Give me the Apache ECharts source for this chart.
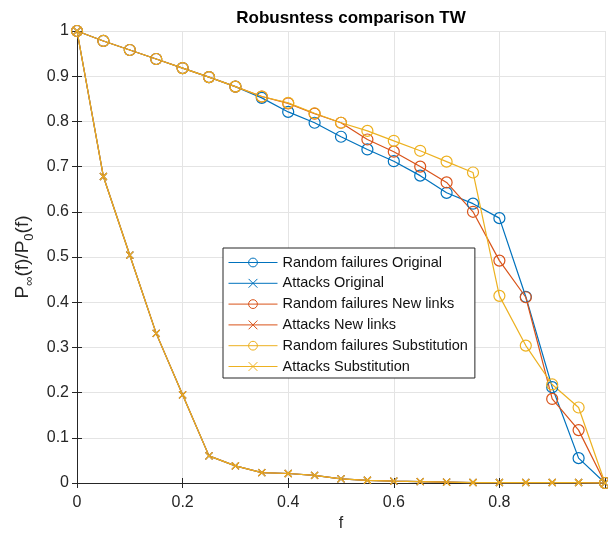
<!DOCTYPE html>
<html>
<head>
<meta charset="utf-8">
<script src="https://cdn.jsdelivr.net/npm/echarts@6/dist/echarts.min.js"></script>
<style>
  html, body { margin: 0; padding: 0; background: #fff; }
  #chart { width: 608px; height: 537px; }
</style>
</head>
<body>
<div id="chart"></div>
<script>
// Fraction of removed nodes
const fractions = [0, 0.05, 0.1, 0.15, 0.2, 0.25, 0.3, 0.35, 0.4, 0.45, 0.5,
                   0.55, 0.6, 0.65, 0.7, 0.75, 0.8, 0.85, 0.9, 0.95, 1];

// Relative size of the giant component, P_inf(f)/P_0(f)
const randomOriginal     = [1.000, 0.978, 0.958, 0.938, 0.918, 0.898, 0.877, 0.852, 0.821, 0.797, 0.766,
                            0.738, 0.712, 0.680, 0.642, 0.618, 0.586, 0.412, 0.212, 0.055, 0.000];
const attacksOriginal    = [1.000, 0.678, 0.504, 0.331, 0.195, 0.060, 0.038, 0.023, 0.021, 0.017, 0.009,
                            0.006, 0.004, 0.003, 0.002, 0.001, 0.001, 0.001, 0.001, 0.001, 0.000];
const randomNewLinks     = [1.000, 0.978, 0.958, 0.938, 0.918, 0.898, 0.877, 0.855, 0.840, 0.817, 0.797,
                            0.760, 0.733, 0.700, 0.665, 0.600, 0.492, 0.411, 0.186, 0.117, 0.000];
const attacksNewLinks    = [1.000, 0.678, 0.504, 0.331, 0.195, 0.060, 0.038, 0.023, 0.021, 0.017, 0.009,
                            0.006, 0.004, 0.003, 0.002, 0.001, 0.001, 0.001, 0.001, 0.001, 0.000];
const randomSubstitution = [1.000, 0.978, 0.958, 0.938, 0.918, 0.898, 0.877, 0.855, 0.841, 0.818, 0.797,
                            0.779, 0.757, 0.735, 0.711, 0.687, 0.414, 0.304, 0.218, 0.167, 0.000];
const attacksSubstitution = [1.000, 0.678, 0.504, 0.331, 0.195, 0.060, 0.038, 0.023, 0.021, 0.017, 0.009,
                            0.006, 0.004, 0.003, 0.002, 0.001, 0.001, 0.001, 0.001, 0.001, 0.000];

const seriesNames = ['Random failures Original', 'Attacks Original',
                     'Random failures New links', 'Attacks New links',
                     'Random failures Substitution', 'Attacks Substitution'];

const xTicks = [0, 0.2, 0.4, 0.6, 0.8, 1];
const yTicks = [0, 0.1, 0.2, 0.3, 0.4, 0.5, 0.6, 0.7, 0.8, 0.9, 1];

const FONT = '"Liberation Sans", Arial, Helvetica, sans-serif';
const AXIS_COLOR = '#262626';
const BLUE = '#0072BD', ORANGE = '#D95319', YELLOW = '#EDB120';
const CROSS = 'path://M0,0L10,10M10,0L0,10';

function makeSeries(name, values, color, symbol) {
  return {
    name: name,
    type: 'line',
    data: fractions.map((f, i) => [f, values[i]]),
    symbol: symbol,
    symbolSize: symbol === 'circle' ? 11 : 7,
    clip: false,
    lineStyle: { color: color, width: 1.2 },
    itemStyle: { color: 'transparent', borderColor: color, borderWidth: 1.2 },
    emphasis: { disabled: true },
    animation: false
  };
}

const chart = echarts.init(document.getElementById('chart'), null, { renderer: 'canvas' });

const fmt = v => String(+v.toFixed(1));

chart.setOption({
  backgroundColor: '#fff',
  animation: false,
  textStyle: { fontFamily: FONT },
  title: {
    text: 'Robusntess comparison TW',
    left: 346,
    top: 5,
    textAlign: 'center',
    textStyle: { fontFamily: FONT, fontSize: 17, fontWeight: 'bold', color: '#000' }
  },
  grid: { left: 77, right: -3, top: 31, bottom: 54, containLabel: false },
  legend: {
    orient: 'vertical',
    left: 223,
    top: 248,
    backgroundColor: '#fff',
    borderColor: AXIS_COLOR,
    borderWidth: 1,
    borderRadius: 0,
    padding: [7, 7, 4, 5],
    itemWidth: 49,
    itemHeight: 11,
    itemGap: 5.8,
    selectedMode: false,
    lineStyle: { width: 1 },
    itemStyle: { borderWidth: 1 },
    textStyle: { fontFamily: FONT, fontSize: 14.5, color: '#111', padding: [0, 0, 0, 0] },
    data: seriesNames
  },
  xAxis: [{
    type: 'value',
    min: 0, max: 1, interval: 0.2,
    position: 'bottom',
    name: 'f',
    nameLocation: 'middle',
    nameGap: 32,
    nameTextStyle: { fontFamily: FONT, fontSize: 16, color: AXIS_COLOR },
    axisLine: { show: true, lineStyle: { color: AXIS_COLOR, width: 1 } },
    axisTick: { show: true, inside: true, length: 5, lineStyle: { color: AXIS_COLOR } },
    axisLabel: {
      margin: 12, fontFamily: FONT, fontSize: 16, color: AXIS_COLOR,
      formatter: v => (xTicks.indexOf(+v.toFixed(1)) >= 0 && v < 1 ? fmt(v) : '')
    },
    splitLine: { show: true, lineStyle: { color: '#e4e4e4', width: 1 } }
  }, {
    type: 'value',
    min: 0, max: 1, interval: 0.2,
    position: 'top',
    axisLine: { show: true, lineStyle: { color: AXIS_COLOR, width: 1 } },
    axisTick: { show: true, inside: true, length: 5, lineStyle: { color: AXIS_COLOR } },
    axisLabel: { show: false },
    splitLine: { show: false }
  }],
  yAxis: [{
    type: 'value',
    min: 0, max: 1, interval: 0.1,
    position: 'left',
    name: '{m|P}{s|∞}{m|(f)/P}{s|0}{m|(f)}',
    nameLocation: 'middle',
    nameGap: 33,
    nameRotate: 90,
    nameTextStyle: {
      color: AXIS_COLOR,
      rich: {
        m: { fontFamily: FONT, fontSize: 19, color: AXIS_COLOR, lineHeight: 27, verticalAlign: 'middle' },
        s: { fontFamily: FONT, fontSize: 13, color: AXIS_COLOR, lineHeight: 27, verticalAlign: 'bottom' }
      }
    },
    axisLine: { show: true, lineStyle: { color: AXIS_COLOR, width: 1 } },
    axisTick: { show: true, inside: true, length: 5, lineStyle: { color: AXIS_COLOR } },
    axisLabel: {
      margin: 8, fontFamily: FONT, fontSize: 16, color: AXIS_COLOR,
      formatter: v => (yTicks.indexOf(+v.toFixed(1)) >= 0 ? fmt(v) : '')
    },
    splitLine: { show: true, lineStyle: { color: '#e4e4e4', width: 1 } }
  }, {
    type: 'value',
    min: 0, max: 1, interval: 0.1,
    position: 'right',
    axisLine: { show: true, lineStyle: { color: AXIS_COLOR, width: 1 } },
    axisTick: { show: true, inside: true, length: 5, lineStyle: { color: AXIS_COLOR } },
    axisLabel: { show: false },
    splitLine: { show: false }
  }],
  series: [
    makeSeries(seriesNames[0], randomOriginal, BLUE, 'circle'),
    makeSeries(seriesNames[1], attacksOriginal, BLUE, CROSS),
    makeSeries(seriesNames[2], randomNewLinks, ORANGE, 'circle'),
    makeSeries(seriesNames[3], attacksNewLinks, ORANGE, CROSS),
    makeSeries(seriesNames[4], randomSubstitution, YELLOW, 'circle'),
    makeSeries(seriesNames[5], attacksSubstitution, YELLOW, CROSS)
  ]
});
</script>
</body>
</html>
